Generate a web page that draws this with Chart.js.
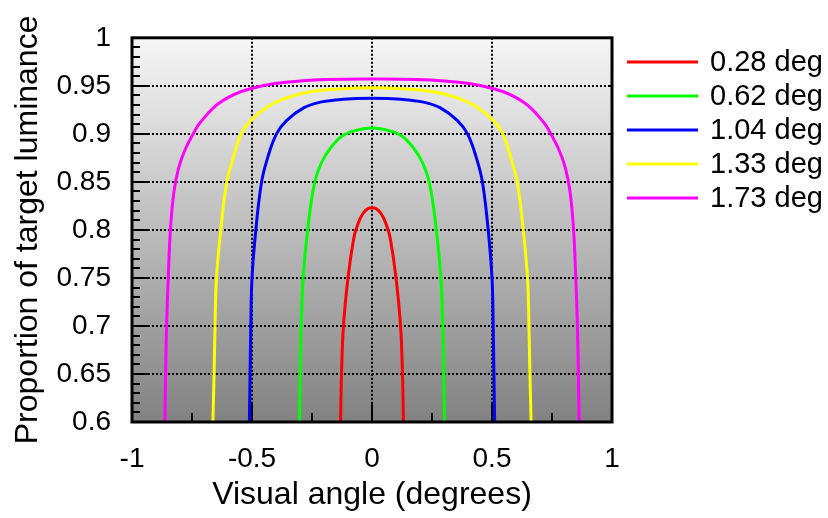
<!DOCTYPE html>
<html>
<head>
<meta charset="utf-8">
<script src="https://cdn.jsdelivr.net/npm/chart.js@4"></script>
<style>
  body { margin: 0; background: #fff; }
  canvas { display: block; }
</style>
</head>
<body>
<canvas id="chart" width="828" height="518"></canvas>
<script>
// values, from the left foot over the peak to the right foot
var labels = ['0.28 deg', '0.62 deg', '1.04 deg', '1.33 deg', '1.73 deg'];

var redX = [-0.131, -0.127, -0.119, -0.100, -0.077, -0.063, -0.035, 0, 0.035, 0.063, 0.077, 0.100, 0.119, 0.127, 0.131];
var redY = [0.6, 0.65, 0.7, 0.75, 0.79, 0.803, 0.818, 0.823, 0.818, 0.803, 0.79, 0.75, 0.7, 0.65, 0.6];

var greenX = [-0.302, -0.299, -0.295, -0.287, -0.268, -0.238, -0.200, -0.138, -0.088, 0, 0.088, 0.138, 0.200, 0.238, 0.268, 0.287, 0.295, 0.299, 0.302];
var greenY = [0.6, 0.65, 0.7, 0.75, 0.8, 0.85, 0.875, 0.895, 0.902, 0.906, 0.902, 0.895, 0.875, 0.85, 0.8, 0.75, 0.7, 0.65, 0.6];

var blueX = [-0.511, -0.508, -0.505, -0.500, -0.484, -0.460, -0.435, -0.398, -0.355, -0.285, -0.215, -0.120, 0, 0.120, 0.215, 0.285, 0.355, 0.398, 0.435, 0.460, 0.484, 0.500, 0.505, 0.508, 0.511];
var blueY = [0.6, 0.65, 0.7, 0.75, 0.8, 0.85, 0.875, 0.9, 0.914, 0.927, 0.933, 0.936, 0.937, 0.936, 0.933, 0.927, 0.914, 0.9, 0.875, 0.85, 0.8, 0.75, 0.7, 0.65, 0.6];

var yellowX = [-0.663, -0.658, -0.654, -0.648, -0.630, -0.605, -0.578, -0.545, -0.505, -0.430, -0.350, -0.250, -0.120, 0, 0.120, 0.250, 0.350, 0.430, 0.505, 0.545, 0.578, 0.605, 0.630, 0.648, 0.654, 0.658, 0.663];
var yellowY = [0.6, 0.65, 0.7, 0.75, 0.8, 0.85, 0.875, 0.9, 0.914, 0.929, 0.938, 0.944, 0.947, 0.948, 0.947, 0.944, 0.938, 0.929, 0.914, 0.9, 0.875, 0.85, 0.8, 0.75, 0.7, 0.65, 0.6];

var magentaX = [-0.863, -0.860, -0.856, -0.849, -0.840, -0.825, -0.805, -0.778, -0.745, -0.715, -0.632, -0.507, -0.300, 0, 0.300, 0.507, 0.632, 0.715, 0.745, 0.778, 0.805, 0.825, 0.840, 0.849, 0.856, 0.860, 0.863];
var magentaY = [0.6, 0.65, 0.7, 0.75, 0.8, 0.84, 0.865, 0.884, 0.9, 0.912, 0.933, 0.947, 0.955, 0.957, 0.955, 0.947, 0.933, 0.912, 0.9, 0.884, 0.865, 0.84, 0.8, 0.75, 0.7, 0.65, 0.6];

var xTicks = [-1, -0.5, 0, 0.5, 1];
var xTickLabels = ['-1', '-0.5', '0', '0.5', '1'];
var yTicks = [0.6, 0.65, 0.7, 0.75, 0.8, 0.85, 0.9, 0.95, 1];
var yTickLabels = ['0.6', '0.65', '0.7', '0.75', '0.8', '0.85', '0.9', '0.95', '1'];

var colors = ['#ff0000', '#00ff00', '#0000ff', '#ffff00', '#ff00ff'];
var FONT = "'Liberation Sans', Arial, sans-serif";

function pts(xs, ys) {
  var out = [];
  for (var i = 0; i < xs.length; i++) out.push({x: xs[i], y: ys[i]});
  return out;
}

var allData = [pts(redX, redY), pts(greenX, greenY), pts(blueX, blueY), pts(yellowX, yellowY), pts(magentaX, magentaY)];

var datasets = [];
for (var i = 0; i < labels.length; i++) {
  datasets.push({
    label: labels[i],
    data: allData[i],
    borderColor: colors[i],
    backgroundColor: colors[i],
    borderWidth: 3,
    pointRadius: 0,
    showLine: true,
    tension: 0.4
  });
}

// grey gradient behind the plot
var bgPlugin = {
  id: 'bg',
  beforeDraw: function(chart) {
    var a = chart.chartArea, c = chart.ctx;
    var g = c.createLinearGradient(0, a.top, 0, a.bottom);
    g.addColorStop(0, '#f6f6f6');
    g.addColorStop(1, '#828282');
    c.save();
    c.fillStyle = g;
    c.fillRect(a.left, a.top, a.right - a.left, a.bottom - a.top);
    c.restore();
  }
};

// inward ticks and the box
var framePlugin = {
  id: 'frame',
  afterDatasetsDraw: function(chart) {
    var a = chart.chartArea, c = chart.ctx;
    var xs = chart.scales.x, ys = chart.scales.y;
    c.save();
    c.strokeStyle = '#000';
    c.lineWidth = 2;
    c.beginPath();
    for (var k = 61; k < 100; k++) {
      var py = Math.round(ys.getPixelForValue(k / 100));
      var len = (k % 5 === 0) ? 17 : 8;
      c.moveTo(a.left, py); c.lineTo(a.left + len, py);
      if (k % 5 === 0) { c.moveTo(a.right, py); c.lineTo(a.right - 4, py); }
    }
    [-0.75, -0.5, -0.25, 0, 0.25, 0.5, 0.75].forEach(function(v) {
      var px = Math.round(xs.getPixelForValue(v));
      var len = (v * 2) % 1 === 0 ? 19 : 9;
      c.moveTo(px, a.bottom); c.lineTo(px, a.bottom - len);
    });
    c.stroke();
    c.lineWidth = 3;
    c.strokeRect(a.left, a.top, a.right - a.left, a.bottom - a.top);
    c.restore();
  }
};

// legend on the right
var legendPlugin = {
  id: 'sideLegend',
  afterDraw: function(chart) {
    var c = chart.ctx;
    c.save();
    c.font = '29px ' + FONT;
    c.textBaseline = 'middle';
    c.textAlign = 'left';
    chart.data.datasets.forEach(function(ds, i) {
      var y = 62 + i * 34;
      c.strokeStyle = ds.borderColor;
      c.lineWidth = 3;
      c.beginPath();
      c.moveTo(627, y); c.lineTo(698, y);
      c.stroke();
      c.fillStyle = '#000';
      c.fillText(ds.label, 710, y + 1);
    });
    c.restore();
  }
};

var tickFont = {family: FONT, size: 28};
var titleFont = {family: FONT, size: 32};

var ctx = document.getElementById('chart');
var chart = new Chart(ctx, {
  type: 'scatter',
  data: {datasets: datasets},
  options: {
    responsive: false,
    animation: false,
    layout: {padding: {left: 0, top: 37, right: 216, bottom: 0}},
    plugins: {legend: {display: false}, tooltip: {enabled: false}},
    scales: {
      x: {
        type: 'linear', min: -1, max: 1,
        afterFit: function(s) { s.height = 96; },
        afterBuildTicks: function(s) { s.ticks = xTicks.map(function(v) { return {value: v}; }); },
        ticks: {
          callback: function(v, i) { return xTickLabels[i]; },
          padding: 20, color: '#000', font: tickFont, maxRotation: 0, autoSkip: false
        },
        grid: {
          drawTicks: false, lineWidth: 2,
          color: function(c) { return Math.abs(c.tick.value) < 0.99 ? '#000' : 'rgba(0,0,0,0)'; }
        },
        border: {display: false, dash: [2, 2]},
        title: {display: true, text: 'Visual angle (degrees)', color: '#000', font: titleFont, padding: {top: 0, bottom: 4}}
      },
      y: {
        type: 'linear', min: 0.6, max: 1,
        afterFit: function(s) { s.width = 132; },
        afterBuildTicks: function(s) { s.ticks = yTicks.map(function(v) { return {value: v}; }); },
        ticks: {
          callback: function(v, i) { return yTickLabels[i]; },
          padding: 21, color: '#000', font: tickFont, autoSkip: false
        },
        grid: {
          drawTicks: false, lineWidth: 2,
          color: function(c) { return (c.tick.value > 0.61 && c.tick.value < 0.99) ? '#000' : 'rgba(0,0,0,0)'; }
        },
        border: {display: false, dash: [2, 2]},
        title: {display: true, text: 'Proportion of target luminance', color: '#000', font: titleFont, padding: {top: 9, bottom: 0}}
      }
    }
  },
  plugins: [bgPlugin, framePlugin, legendPlugin]
});
</script>
</body>
</html>
